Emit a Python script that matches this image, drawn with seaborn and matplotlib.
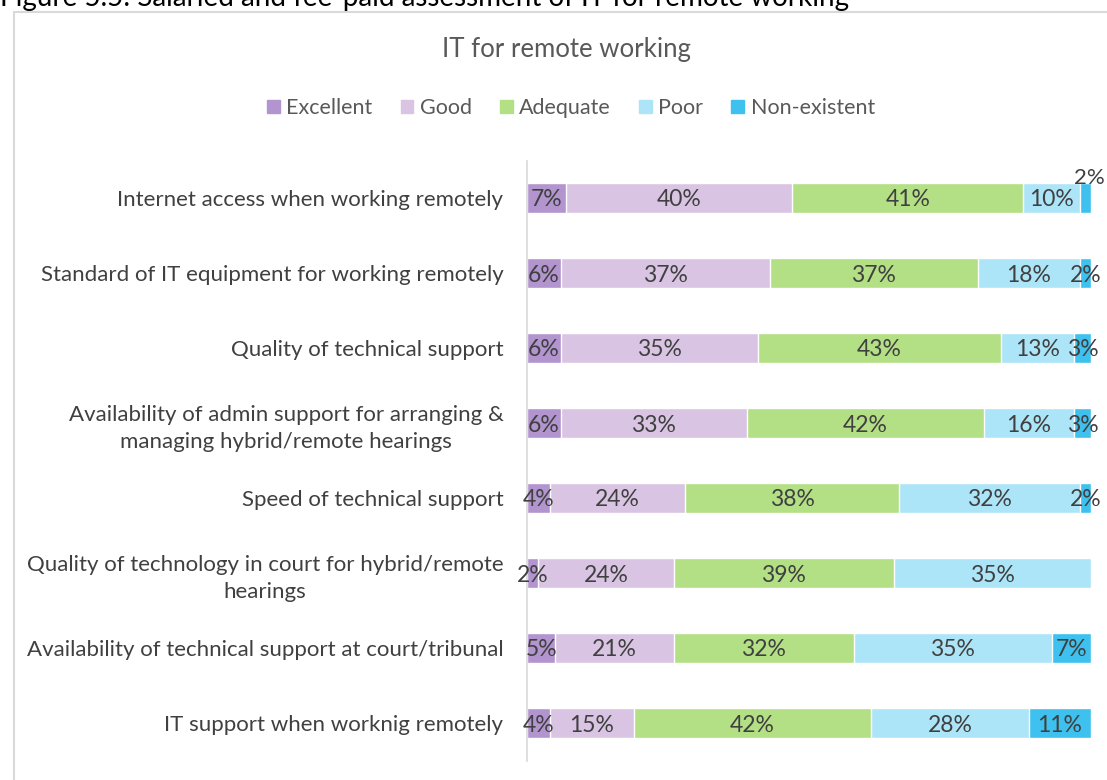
import matplotlib.pyplot as plt
import matplotlib.patches as mpatches
import seaborn as sns
import numpy as np
import pandas as pd

# Datos (porcentajes por fila)
categories = [
    "Internet access when working remotely",
    "Standard of IT equipment for working remotely",
    "Quality of technical support",
    "Availability of admin support for arranging &\nmanaging hybrid/remote hearings",
    "Speed of technical support",
    "Quality of technology in court for hybrid/remote\nhearings",
    "Availability of technical support at court/tribunal",
    "IT support when worknig remotely",
]
series = ["Excellent", "Good", "Adequate", "Poor", "Non-existent"]
excellent = [7, 6, 6, 6, 4, 2, 5, 4]
good = [40, 37, 35, 33, 24, 24, 21, 15]
adequate = [41, 37, 43, 42, 38, 39, 32, 42]
poor = [10, 18, 13, 16, 32, 35, 35, 28]
non_existent = [2, 2, 3, 3, 2, 0, 7, 11]

colors = ["#B294CE", "#D9C5E3", "#B3DF85", "#ADE5F8", "#3EC1EE"]
text_color = "#404040"

sns.set_theme(style="white")
plt.rcParams["font.family"] = ["Lato", "DejaVu Sans"]

values = np.array([excellent, good, adequate, poor, non_existent], dtype=float)
cum = values.cumsum(axis=0)

fig = plt.figure(figsize=(11.07, 7.8), dpi=100)
ax = fig.add_axes([527 / 1107, 19.5 / 780, (1091 - 527) / 1107, 600 / 780])

# Apilado: dibujar los acumulados de mayor a menor para que se superpongan
for i in reversed(range(len(series))):
    df = pd.DataFrame({"cat": categories, "val": cum[i]})
    sns.barplot(data=df, x="val", y="cat", orient="h", color=colors[i],
                width=0.4, saturation=1, ax=ax)

# Etiquetas de datos
for i in range(len(series)):
    for j in range(len(categories)):
        v = values[i, j]
        if v == 0:
            continue
        xc = cum[i, j] - v / 2
        yc = j
        if i == 4 and j == 0:
            # etiqueta pequena desplazada encima de la barra
            ax.text(cum[i, j] - 0.2, yc - 0.29, f"{v:.0f}%", ha="center",
                    va="center_baseline", fontsize=16, color=text_color)
            continue
        ax.text(xc, yc, f"{v:.0f}%", ha="center", va="center_baseline",
                fontsize=16.5, color=text_color)

ax.set_xlim(0, 100)
ax.set_ylim(7.5, -0.5)
ax.set_xlabel("")
ax.set_ylabel("")
ax.set_xticks([])
ax.tick_params(axis="y", length=0, pad=17, labelsize=16, labelcolor=text_color)
for lbl in ax.get_yticklabels():
    lbl.set_multialignment("center")
    lbl.set_linespacing(1.45)
for s in ["top", "right", "bottom"]:
    ax.spines[s].set_visible(False)
ax.spines["left"].set_color("#D9D9D9")
ax.spines["left"].set_linewidth(1.2)

# Marco del grafico
fig.patches.append(mpatches.Rectangle((14 / 1107, -0.01), 1.0, 1 - 12 / 780 + 0.01,
                                      transform=fig.transFigure, fill=False,
                                      edgecolor="#D9D9D9", linewidth=1.5))

# Titulo de la figura (cortado arriba) y titulo del grafico
fig.text(0.0, 1.003, "Figure 5.5: Salaried and fee-paid assessment of IT for remote working",
         ha="left", va="center", fontsize=20, color="black")
fig.text(566 / 1107, 1 - 50 / 780, "IT for remote working", ha="center",
         va="center", fontsize=18.5, color="#595959")

handles = [mpatches.Patch(color=c, label=s) for c, s in zip(colors, series)]
fig.legend(handles=handles, loc="center", bbox_to_anchor=(571 / 1107, 1 - 108 / 780),
           ncol=5, frameon=False, fontsize=15.5, handlelength=0.6, handleheight=0.6,
           handletextpad=0.3, columnspacing=1.3, labelcolor="#595959")

plt.savefig("out.png", dpi=100)
